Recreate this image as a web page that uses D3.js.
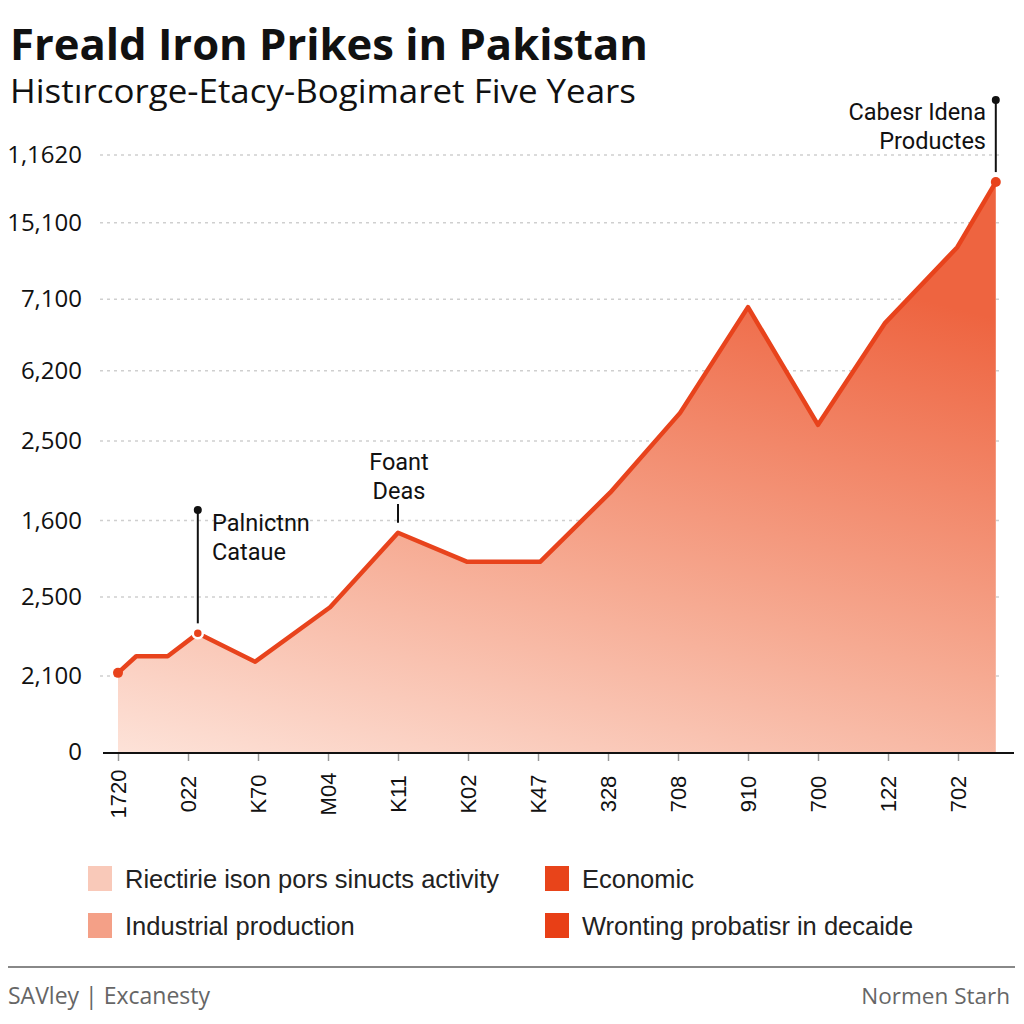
<!DOCTYPE html>
<html>
<head>
<meta charset="utf-8">
<script src="https://cdn.jsdelivr.net/npm/d3@7"></script>
<style>
  body { margin: 0; background: #fff; }
  svg { display: block; }
</style>
</head>
<body>
<div id="chart"></div>
<script>
// tick labels (as printed on the chart)
const yLabels = ["0", "2,100", "2,500", "1,600", "2,500", "6,200", "7,100", "15,100", "1,1620"];
const xLabels = ["1720", "022", "K70", "M04", "K11", "K02", "K47", "328", "708", "910", "700", "122", "702"];

// series: position along the period axis, and level in gridline units
const periods = [0, 0.26, 0.71, 1.14, 1.96, 3.03, 4.0, 4.99, 6.03, 7.03, 8.03, 9.0, 10.0, 10.96, 11.99, 12.54];
const levels  = [1.04, 1.25, 1.25, 1.54, 1.18, 1.87, 2.84, 2.46, 2.46, 3.35, 4.40, 5.89, 4.23, 5.67, 6.68, 7.60];

const legendLabels = ["Riectirie ison pors sinucts activity", "Industrial production", "Economic", "Wronting probatisr in decaide"];
const legendColors = ["#f9c9b9", "#f4a087", "#e8441a", "#e83f16"];

const width = 1024, height = 1024;

const svg = d3.select("#chart").append("svg")
    .attr("width", width)
    .attr("height", height);

// gridlines aren't evenly spaced in the picture, so a piecewise scale
const y = d3.scaleLinear()
    .domain(d3.range(9))
    .range([752, 676, 597, 520.5, 441, 370.7, 299.3, 222.7, 155]);

const x = d3.scaleLinear()
    .domain([0, 12])
    .range([118, 958]);

const data = periods.map((p, i) => ({p: p, v: levels[i]}));

// title block
svg.append("text")
    .attr("x", 10).attr("y", 60)
    .attr("font-family", "'Open Sans', sans-serif")
    .attr("font-weight", 700)
    .attr("font-size", 43)
    .attr("textLength", 638)
    .attr("lengthAdjust", "spacingAndGlyphs")
    .attr("fill", "#111")
    .text("Freald Iron Prikes in Pakistan");

svg.append("text")
    .attr("x", 10).attr("y", 103)
    .attr("font-family", "'Open Sans', sans-serif")
    .attr("font-size", 32)
    .attr("textLength", 626)
    .attr("lengthAdjust", "spacingAndGlyphs")
    .attr("fill", "#111")
    .text("Histırcorge-Etacy-Bogimaret Five Years");

// gridlines
svg.append("g")
  .selectAll("line")
  .data(d3.range(1, 9))
  .join("line")
    .attr("x1", 100).attr("x2", 1000)
    .attr("y1", d => y(d)).attr("y2", d => y(d))
    .attr("stroke", "#cfcfcf")
    .attr("stroke-width", 1.5)
    .attr("stroke-dasharray", "3,4");

// y axis labels
const yAxis = svg.append("g")
    .attr("transform", "translate(82,0)")
    .call(d3.axisLeft(y).tickValues(d3.range(9)).tickFormat(i => yLabels[i]).tickSize(0).tickPadding(0));
yAxis.select(".domain").remove();
yAxis.selectAll("text")
    .attr("font-family", "'Open Sans', sans-serif")
    .attr("font-size", 24)
    .attr("fill", "#111");

// area gradient
const defs = svg.append("defs");
const grad = defs.append("linearGradient")
    .attr("id", "areaFill")
    .attr("x1", 0).attr("y1", 1).attr("x2", 0.4).attr("y2", 0);
grad.append("stop").attr("offset", 0).attr("stop-color", "#fde2d8");
grad.append("stop").attr("offset", 0.45).attr("stop-color", "#f6aa92");
grad.append("stop").attr("offset", 1).attr("stop-color", "#ee6440");

const area = d3.area()
    .x(d => x(d.p))
    .y0(y(0))
    .y1(d => y(d.v));

const line = d3.line()
    .x(d => x(d.p))
    .y(d => y(d.v));

svg.append("path")
    .datum(data)
    .attr("d", area)
    .attr("fill", "url(#areaFill)");

// x axis
const xAxis = svg.append("g")
    .attr("transform", `translate(0,${y(0)})`)
    .call(d3.axisBottom(x).tickValues(d3.range(13)).tickFormat(i => xLabels[i]).tickSize(9));
xAxis.select(".domain").remove();
xAxis.selectAll(".tick line").attr("stroke", "#999").attr("stroke-width", 1.5);
xAxis.selectAll("text")
    .attr("font-family", "'Liberation Sans', Arial, sans-serif")
    .attr("font-size", 22)
    .attr("fill", "#111")
    .attr("text-anchor", "middle")
    .attr("transform", "rotate(-90)")
    .attr("x", -42)
    .attr("y", 0)
    .attr("dy", "0.35em");

svg.append("line")
    .attr("x1", 103).attr("x2", 1014)
    .attr("y1", y(0) + 1).attr("y2", y(0) + 1)
    .attr("stroke", "#111")
    .attr("stroke-width", 2);

svg.append("path")
    .datum(data)
    .attr("d", line)
    .attr("fill", "none")
    .attr("stroke", "#e8431c")
    .attr("stroke-width", 4.5)
    .attr("stroke-linejoin", "round");

// end dots
svg.append("g")
  .selectAll("circle")
  .data([data[0], data[data.length - 1]])
  .join("circle")
    .attr("cx", d => x(d.p))
    .attr("cy", d => y(d.v))
    .attr("r", 5)
    .attr("fill", "#e8431c");

// annotations
function note(idx, lines, tx, ty, anchor, top, withDot) {
  const px = x(data[idx].p), py = y(data[idx].v);
  const g = svg.append("g");
  g.append("line")
      .attr("x1", px).attr("x2", px)
      .attr("y1", top).attr("y2", py - 10)
      .attr("stroke", "#111").attr("stroke-width", 2);
  if (withDot) {
    g.append("circle").attr("cx", px).attr("cy", top).attr("r", 4).attr("fill", "#111");
  }
  g.append("text")
      .attr("font-family", "Roboto, sans-serif")
      .attr("font-size", 23.5)
      .attr("fill", "#111")
      .attr("text-anchor", anchor)
    .selectAll("tspan")
    .data(lines)
    .join("tspan")
      .attr("x", tx)
      .attr("y", (d, i) => ty + i * 29)
      .text(d => d);
  return px;
}

// point marker at the first note
svg.append("circle")
    .attr("cx", x(data[3].p)).attr("cy", y(data[3].v))
    .attr("r", 5).attr("fill", "#e8431c")
    .attr("stroke", "#fff").attr("stroke-width", 2.5);

note(3, ["Palnictnn", "Cataue"], 212, 531, "start", 510, true);
note(6, ["Foant", "Deas"], 399, 470, "middle", 504, false);
note(15, ["Cabesr Idena", "Productes"], 986, 120, "end", 100, true);

// legend
const legend = svg.append("g")
  .selectAll("g")
  .data(legendLabels)
  .join("g")
    .attr("transform", (d, i) => `translate(${i < 2 ? 88 : 545},${866 + (i % 2) * 47})`);

legend.append("rect")
    .attr("width", 24).attr("height", 25)
    .attr("fill", (d, i) => legendColors[i]);

legend.append("text")
    .attr("x", 37).attr("y", 13)
    .attr("dy", "0.35em")
    .attr("font-family", "'Liberation Sans', Arial, sans-serif")
    .attr("font-size", 25.5)
    .attr("fill", "#222")
    .text(d => d);

// footer
svg.append("line")
    .attr("x1", 8).attr("x2", 1015)
    .attr("y1", 967).attr("y2", 967)
    .attr("stroke", "#888").attr("stroke-width", 2);

svg.append("text")
    .attr("x", 8).attr("y", 1004)
    .attr("font-family", "'Open Sans', sans-serif")
    .attr("font-size", 23)
    .attr("fill", "#666")
    .text("SAVley | Excanesty");

svg.append("text")
    .attr("x", 1010).attr("y", 1004)
    .attr("text-anchor", "end")
    .attr("font-family", "'Open Sans', sans-serif")
    .attr("font-size", 22.5)
    .attr("fill", "#666")
    .text("Normen Starh");
</script>
</body>
</html>
